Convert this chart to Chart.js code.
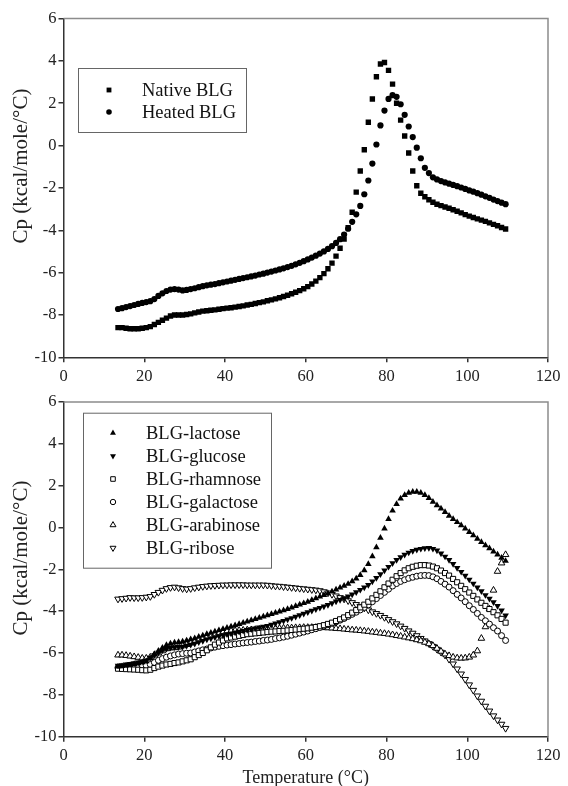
<!DOCTYPE html>
<html>
<head>
<meta charset="utf-8">
<script src="https://cdn.jsdelivr.net/npm/chart.js@4.4.0/dist/chart.umd.min.js"></script>
<style>
html, body { margin: 0; padding: 0; background: #fff; }
#wrap { position: relative; width: 568px; height: 786px; }
canvas { position: absolute; left: 0; }
</style>
</head>
<body>
<div id="wrap">
  <canvas id="topChart" width="568" height="390" style="top:0"></canvas>
  <canvas id="bottomChart" width="568" height="396" style="top:390px"></canvas>
</div>
<script>
'use strict';

// temperature (°C) of each reading, shared by both panels
var temps = [13.5,14.5,15.5,16.5,17.5,18.5,19.5,20.5,21.5,22.5,23.5,24.5,25.5,26.5,27.5,28.5,29.5,30.5,31.5,32.5,
  33.5,34.5,35.5,36.5,37.5,38.5,39.5,40.5,41.5,42.5,43.5,44.5,45.5,46.5,47.5,48.5,49.5,50.5,51.5,52.5,
  53.5,54.5,55.5,56.5,57.5,58.5,59.5,60.5,61.5,62.5,63.5,64.5,65.5,66.5,67.5,68.5,69.5,70.5,71.5,72.5,
  73.5,74.5,75.5,76.5,77.5,78.5,79.5,80.5,81.5,82.5,83.5,84.5,85.5,86.5,87.5,88.5,89.5,90.5,91.5,92.5,
  93.5,94.5,95.5,96.5,97.5,98.5,99.5,100.5,101.5,102.5,103.5,104.5,105.5,106.5,107.5,108.5,109.5];

// top panel
var nativeBLG = [-8.6,-8.6,-8.63,-8.65,-8.65,-8.65,-8.63,-8.6,-8.55,-8.45,-8.35,-8.25,-8.15,-8.05,-8.0,-8.0,-8.0,-7.98,-7.95,-7.9,
  -7.86,-7.82,-7.8,-7.78,-7.76,-7.73,-7.7,-7.68,-7.66,-7.63,-7.6,-7.57,-7.53,-7.5,-7.46,-7.42,-7.38,-7.33,-7.29,-7.24,
  -7.19,-7.13,-7.07,-7.0,-6.93,-6.85,-6.76,-6.66,-6.54,-6.4,-6.24,-6.05,-5.82,-5.55,-5.22,-4.85,-4.42,-3.88,-3.15,-2.2,
  -1.2,-0.2,1.1,2.2,3.25,3.85,3.92,3.55,2.9,2.0,1.2,0.45,-0.35,-1.2,-1.9,-2.25,-2.42,-2.56,-2.68,-2.77,
  -2.84,-2.9,-2.96,-3.03,-3.1,-3.18,-3.26,-3.33,-3.4,-3.46,-3.52,-3.58,-3.65,-3.72,-3.79,-3.87,-3.94];
var heatedBLG = [-7.72,-7.68,-7.63,-7.58,-7.53,-7.48,-7.43,-7.39,-7.35,-7.25,-7.1,-6.98,-6.87,-6.8,-6.78,-6.8,-6.84,-6.82,-6.78,-6.74,
  -6.69,-6.64,-6.6,-6.57,-6.54,-6.5,-6.46,-6.42,-6.38,-6.34,-6.3,-6.26,-6.22,-6.18,-6.14,-6.09,-6.05,-6.0,-5.95,-5.9,
  -5.85,-5.8,-5.74,-5.68,-5.61,-5.54,-5.46,-5.38,-5.29,-5.2,-5.1,-5.0,-4.88,-4.75,-4.6,-4.42,-4.2,-3.93,-3.6,-3.25,
  -2.85,-2.3,-1.65,-0.85,0.05,0.95,1.65,2.2,2.38,2.3,1.95,1.45,0.9,0.4,-0.1,-0.6,-1.05,-1.3,-1.5,-1.6,
  -1.68,-1.74,-1.8,-1.86,-1.92,-1.98,-2.05,-2.12,-2.18,-2.25,-2.32,-2.4,-2.47,-2.55,-2.62,-2.7,-2.77];

// bottom panel
var lactose = [-6.65,-6.63,-6.6,-6.57,-6.53,-6.5,-6.45,-6.4,-6.25,-6.05,-5.9,-5.75,-5.62,-5.55,-5.5,-5.48,-5.45,-5.4,-5.35,-5.3,
  -5.23,-5.17,-5.1,-5.04,-4.98,-4.92,-4.86,-4.8,-4.74,-4.68,-4.62,-4.56,-4.5,-4.44,-4.38,-4.32,-4.26,-4.2,-4.14,-4.08,
  -4.02,-3.96,-3.9,-3.83,-3.76,-3.69,-3.62,-3.55,-3.47,-3.39,-3.31,-3.23,-3.15,-3.06,-2.97,-2.88,-2.79,-2.7,-2.57,-2.44,
  -2.28,-2.05,-1.75,-1.38,-0.95,-0.5,-0.05,0.4,0.8,1.12,1.38,1.55,1.65,1.7,1.7,1.65,1.55,1.4,1.22,1.06,
  0.9,0.73,0.56,0.4,0.25,0.1,-0.05,-0.22,-0.38,-0.54,-0.7,-0.85,-1.0,-1.15,-1.3,-1.45,-1.6];
var glucose = [-6.6,-6.58,-6.55,-6.52,-6.48,-6.45,-6.4,-6.35,-6.22,-6.1,-5.98,-5.87,-5.8,-5.75,-5.72,-5.71,-5.7,-5.65,-5.6,-5.55,
  -5.48,-5.42,-5.35,-5.3,-5.25,-5.2,-5.15,-5.1,-5.06,-5.02,-4.98,-4.94,-4.9,-4.86,-4.82,-4.78,-4.74,-4.7,-4.64,-4.58,
  -4.52,-4.46,-4.4,-4.33,-4.26,-4.19,-4.12,-4.05,-3.98,-3.91,-3.84,-3.77,-3.7,-3.62,-3.54,-3.46,-3.38,-3.3,-3.2,-3.09,
  -2.98,-2.87,-2.75,-2.58,-2.41,-2.23,-2.05,-1.88,-1.71,-1.55,-1.42,-1.3,-1.2,-1.12,-1.06,-1.02,-0.99,-0.98,-1.02,-1.1,
  -1.24,-1.39,-1.55,-1.74,-1.93,-2.12,-2.3,-2.49,-2.68,-2.87,-3.05,-3.23,-3.4,-3.57,-3.75,-3.97,-4.2];
var rhamnose = [-6.75,-6.76,-6.77,-6.78,-6.79,-6.8,-6.82,-6.83,-6.8,-6.72,-6.65,-6.6,-6.55,-6.52,-6.48,-6.45,-6.4,-6.35,-6.3,-6.2,
  -6.1,-6.0,-5.87,-5.73,-5.6,-5.5,-5.4,-5.3,-5.26,-5.22,-5.18,-5.14,-5.1,-5.08,-5.06,-5.04,-5.02,-5.0,-4.98,-4.97,
  -4.95,-4.94,-4.92,-4.9,-4.88,-4.86,-4.84,-4.82,-4.79,-4.76,-4.72,-4.67,-4.61,-4.55,-4.47,-4.39,-4.3,-4.19,-4.07,-3.95,
  -3.82,-3.69,-3.55,-3.39,-3.22,-3.05,-2.86,-2.68,-2.5,-2.33,-2.18,-2.05,-1.95,-1.88,-1.83,-1.8,-1.8,-1.82,-1.87,-1.95,
  -2.06,-2.18,-2.3,-2.46,-2.62,-2.79,-2.95,-3.11,-3.27,-3.44,-3.6,-3.75,-3.9,-4.05,-4.2,-4.37,-4.55];
var galactose = [-6.7,-6.7,-6.69,-6.68,-6.66,-6.64,-6.62,-6.6,-6.55,-6.45,-6.35,-6.27,-6.2,-6.14,-6.09,-6.05,-6.03,-6.01,-6.0,-5.95,
  -5.9,-5.85,-5.81,-5.76,-5.72,-5.68,-5.65,-5.62,-5.6,-5.57,-5.55,-5.52,-5.5,-5.48,-5.45,-5.43,-5.4,-5.38,-5.35,-5.31,
  -5.28,-5.24,-5.2,-5.15,-5.1,-5.05,-5.0,-4.95,-4.89,-4.84,-4.78,-4.71,-4.65,-4.58,-4.51,-4.43,-4.35,-4.25,-4.15,-4.05,
  -3.94,-3.82,-3.7,-3.55,-3.4,-3.25,-3.1,-2.95,-2.8,-2.68,-2.58,-2.5,-2.43,-2.38,-2.33,-2.3,-2.29,-2.3,-2.36,-2.45,
  -2.58,-2.71,-2.85,-3.02,-3.2,-3.37,-3.55,-3.74,-3.92,-4.11,-4.3,-4.46,-4.62,-4.79,-4.95,-5.17,-5.4];
var arabinose = [-6.1,-6.1,-6.12,-6.15,-6.18,-6.21,-6.25,-6.25,-6.2,-6.1,-6.0,-5.9,-5.8,-5.76,-5.75,-5.72,-5.66,-5.6,-5.52,-5.44,
  -5.35,-5.28,-5.21,-5.15,-5.09,-5.04,-4.99,-4.95,-4.94,-4.93,-4.92,-4.91,-4.9,-4.89,-4.88,-4.87,-4.86,-4.85,-4.84,-4.83,
  -4.82,-4.81,-4.8,-4.8,-4.79,-4.79,-4.78,-4.78,-4.78,-4.78,-4.79,-4.79,-4.8,-4.81,-4.83,-4.84,-4.86,-4.88,-4.9,-4.91,
  -4.93,-4.95,-4.97,-5.0,-5.02,-5.05,-5.07,-5.1,-5.13,-5.17,-5.2,-5.24,-5.28,-5.32,-5.37,-5.42,-5.49,-5.56,-5.65,-5.78,
  -5.92,-6.05,-6.13,-6.2,-6.24,-6.25,-6.24,-6.2,-6.1,-5.9,-5.3,-4.75,-3.9,-3.0,-2.1,-1.7,-1.3];
var ribose = [-3.42,-3.4,-3.38,-3.35,-3.36,-3.36,-3.35,-3.33,-3.3,-3.2,-3.1,-3.0,-2.92,-2.87,-2.85,-2.88,-2.92,-2.94,-2.92,-2.88,
  -2.85,-2.82,-2.8,-2.78,-2.77,-2.76,-2.75,-2.75,-2.74,-2.74,-2.74,-2.74,-2.75,-2.75,-2.75,-2.75,-2.75,-2.76,-2.78,-2.8,
  -2.81,-2.83,-2.85,-2.87,-2.89,-2.91,-2.93,-2.95,-2.97,-2.99,-3.02,-3.07,-3.13,-3.2,-3.27,-3.35,-3.42,-3.5,-3.59,-3.68,
  -3.77,-3.85,-3.94,-4.03,-4.11,-4.2,-4.3,-4.4,-4.5,-4.6,-4.71,-4.82,-4.94,-5.05,-5.17,-5.3,-5.42,-5.55,-5.68,-5.82,
  -5.96,-6.1,-6.3,-6.52,-6.76,-7.0,-7.26,-7.52,-7.78,-8.05,-8.3,-8.54,-8.77,-9.0,-9.2,-9.4,-9.6];

var FONT = 'Liberation Serif';

function points(vals) {
  return temps.map(function(t, i) { return {x: t, y: vals[i]}; });
}

function series(label, vals, style, radius, filled, rotation) {
  return {
    label: label,
    data: points(vals),
    showLine: false,
    pointStyle: style,
    pointRadius: radius,
    pointHoverRadius: radius,
    pointRotation: rotation || 0,
    pointBackgroundColor: filled ? '#000' : '#fff',
    pointBorderColor: '#000',
    pointBorderWidth: filled ? 0 : 1
  };
}

// frame on top/right, y title and the boxed legend inside the plot
var decorPlugin = {
  id: 'decor',
  afterDraw: function(chart, args, opts) {
    var a = chart.chartArea, ctx = chart.ctx;
    ctx.save();
    ctx.strokeStyle = '#8c8c8c';
    ctx.lineWidth = 1.5;
    ctx.beginPath();
    ctx.moveTo(a.left, a.top);
    ctx.lineTo(a.right, a.top);
    ctx.lineTo(a.right, a.bottom);
    ctx.stroke();

    ctx.fillStyle = '#222';
    ctx.font = '21px "' + FONT + '"';
    ctx.textAlign = 'center';
    ctx.textBaseline = 'middle';
    ctx.translate(opts.titleX, opts.titleY);
    ctx.rotate(-Math.PI / 2);
    ctx.fillText('Cp (kcal/mole/°C)', 0, 0);
    ctx.setTransform(1, 0, 0, 1, 0, 0);

    var lg = opts.legend;
    ctx.strokeStyle = '#666';
    ctx.lineWidth = 1;
    ctx.strokeRect(lg.x + 0.5, lg.y + 0.5, lg.w, lg.h);
    ctx.font = '18.5px "' + FONT + '"';
    ctx.textAlign = 'left';
    chart.data.datasets.forEach(function(ds, i) {
      var y = lg.row0 + i * lg.gap;
      ctx.fillStyle = ds.pointBackgroundColor;
      ctx.strokeStyle = ds.pointBorderColor;
      ctx.lineWidth = ds.pointBorderWidth;
      Chart.helpers.drawPoint(ctx, {
        pointStyle: ds.pointStyle, radius: ds.pointRadius * 0.9,
        rotation: ds.pointRotation, borderWidth: ds.pointBorderWidth
      }, lg.mx, y);
      ctx.fillStyle = '#111';
      ctx.fillText(ds.label, lg.tx, y + 1);
    });
    ctx.restore();
  }
};

function axes(xHeight, withTitle) {
  var tickFont = {family: FONT, size: 16.5};
  return {
    x: {
      type: 'linear', min: 0, max: 120,
      ticks: {stepSize: 20, color: '#222', font: tickFont, padding: 4, maxRotation: 0},
      grid: {drawOnChartArea: false, color: '#333', tickLength: 5, lineWidth: 1.5},
      border: {color: '#333', width: 1.5},
      title: {display: withTitle, text: 'Temperature (°C)', color: '#222',
              font: {family: FONT, size: 18, lineHeight: 1}, padding: {top: 0, bottom: -1}},
      afterFit: function(s) { s.height = xHeight; }
    },
    y: {
      type: 'linear', min: -10, max: 6,
      ticks: {stepSize: 2, color: '#222', font: tickFont, padding: 2},
      grid: {drawOnChartArea: false, color: '#333', tickLength: 5, lineWidth: 1.5},
      border: {color: '#333', width: 1.5},
      afterFit: function(s) { s.width = 63.5; }
    }
  };
}

Chart.defaults.devicePixelRatio = 1;

new Chart(document.getElementById('topChart'), {
  type: 'scatter',
  data: {
    datasets: [
      series('Native BLG', nativeBLG, 'rect', 3.8, true),
      series('Heated BLG', heatedBLG, 'circle', 3.1, true)
    ]
  },
  options: {
    responsive: false,
    animation: false,
    devicePixelRatio: 1,
    layout: {padding: {top: 18.5, right: 20, left: 0, bottom: 0}},
    scales: axes(32.7, false),
    plugins: {
      legend: {display: false},
      tooltip: {enabled: false},
      decor: {
        titleX: 21, titleY: 166,
        legend: {x: 78, y: 68, w: 168, h: 64, row0: 90, gap: 22, mx: 109, tx: 142}
      }
    }
  },
  plugins: [decorPlugin]
});

new Chart(document.getElementById('bottomChart'), {
  type: 'scatter',
  data: {
    datasets: [
      series('BLG-lactose', lactose, 'triangle', 3.8, true),
      series('BLG-glucose', glucose, 'triangle', 3.8, true, 180),
      series('BLG-rhamnose', rhamnose, 'rect', 3.6, false),
      series('BLG-galactose', galactose, 'circle', 3.0, false),
      series('BLG-arabinose', arabinose, 'triangle', 3.8, false),
      series('BLG-ribose', ribose, 'triangle', 3.8, false, 180)
    ]
  },
  options: {
    responsive: false,
    animation: false,
    devicePixelRatio: 1,
    layout: {padding: {top: 8.3, right: 20, left: 0, bottom: 0}},
    scales: axes(49.3, true),
    plugins: {
      legend: {display: false},
      tooltip: {enabled: false},
      decor: {
        titleX: 21, titleY: 168,
        legend: {x: 83, y: 22.7, w: 188, h: 155, row0: 43, gap: 23, mx: 113, tx: 146}
      }
    }
  },
  plugins: [decorPlugin]
});
</script>
</body>
</html>
